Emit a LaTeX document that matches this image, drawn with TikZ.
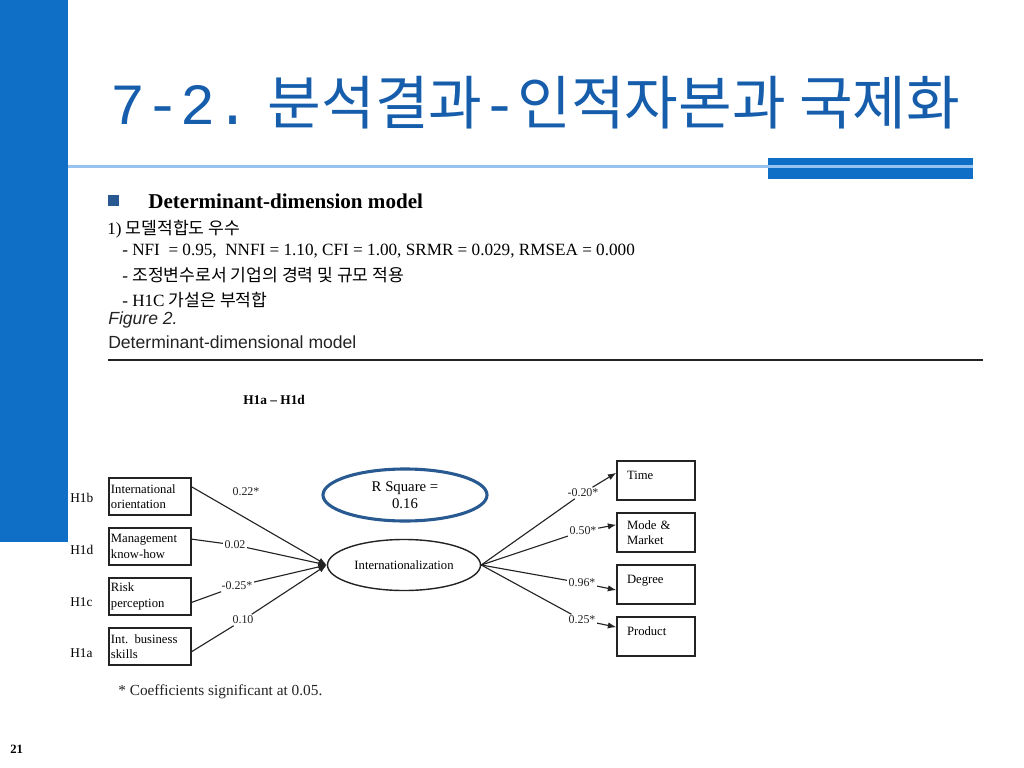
\documentclass[tikz,border=0pt]{standalone}
\usepackage{fontspec}
\setmainfont{Liberation Serif}
\setsansfont{Liberation Sans}
\newfontfamily\kr{Noto Sans CJK KR}
\newfontfamily\krmono{Liberation Mono}
\usetikzlibrary{shapes.geometric,arrows.meta}
\definecolor{barblue}{RGB}{15,111,198}
\definecolor{titleblue}{RGB}{22,94,172}
\definecolor{lineblue}{RGB}{150,195,240}
\definecolor{rsqblue}{RGB}{40,90,145}
\definecolor{scan}{RGB}{35,35,35}

\begin{document}
\begin{tikzpicture}[x=0.025cm,y=-0.025cm,
    txt/.style={anchor=west,inner sep=0pt},
    lbox/.style={draw=scan,line width=1pt,minimum width=2.05cm,minimum height=0.925cm,
        text width=1.95cm,align=left,inner sep=0pt,font=\fontsize{9}{11}\selectfont},
    rbox/.style={draw=scan,line width=1pt,minimum width=1.95cm,minimum height=0.975cm,
        text width=1.45cm,align=left,inner sep=0pt,font=\fontsize{9}{11}\selectfont},
    coef/.style={inner sep=1pt,text=scan,font=\fontsize{8.5}{9}\selectfont},
    hyp/.style={anchor=west,inner sep=0pt,font=\fontsize{9.5}{10}\selectfont},
    path/.style={draw=scan,line width=0.8pt},
    tip/.style={path,-{Latex[length=6pt,width=4.5pt]}}]
\useasboundingbox (0,0) rectangle (1024,768);
% slide frame
\fill[barblue] (0,0) rectangle (68,542); % left bar
\draw[lineblue,line width=2pt] (68,166.5) -- (973,166.5);
\fill[barblue] (768,158) rectangle (973,179);
\draw[lineblue,line width=1.6pt] (768,166.5) -- (973,166.5);
\node[txt,text=titleblue,font=\fontsize{41.5}{42}\selectfont] (title) at (110,103)
    {{\kr{\krmono 7-2.} 분석결과{\krmono -}인적자본과 국제화}};
% text block
\fill[rsqblue] (108,195) rectangle (119,206); % bullet
\node[txt,font=\bfseries\fontsize{15}{16}\selectfont] (head) at (148,201) {Determinant-dimension model};
\node[txt,font=\fontsize{12.2}{13}\selectfont] (fit) at (107,229) {1) {\kr 모델적합도 우수}};
\node[txt,font=\fontsize{12.2}{13}\selectfont] (idx) at (122,251)
    {- NFI~ = 0.95,~ NNFI = 1.10, CFI = 1.00, SRMR = 0.029, RMSEA = 0.000};
\node[txt,font=\fontsize{12.2}{13}\selectfont] (mod) at (122,275) {- {\kr 조정변수로서 기업의 경력 및 규모 적용}};
\node[txt,font=\fontsize{12.2}{13}\selectfont] (h1c) at (122,300) {- H1C {\kr 가설은 부적합}};
% figure caption
\node[txt,text=scan,font=\sffamily\itshape\fontsize{12.5}{13}\selectfont] (fig) at (108,320) {Figure 2.};
\node[txt,text=scan,font=\sffamily\fontsize{12.5}{13}\selectfont] (cap) at (108,342) {Determinant-dimensional model};
\draw[scan,line width=1.3pt] (108,360) -- (983,360);
\node[txt,font=\bfseries\fontsize{9.5}{10}\selectfont] (hrange) at (243,400) {H1a -- H1d};
% determinants
\node[lbox] (io) at (150,496.5) {International\\orientation};
\node[lbox] (mk) at (150,546.5) {Management\\know-how};
\node[lbox] (rp) at (150,596.5) {Risk\\perception};
\node[lbox] (ib) at (150,646.5) {Int. business\\skills};
\node[hyp] (hb) at (70,498) {H1b};
\node[hyp] (hd) at (70,550) {H1d};
\node[hyp] (hc) at (70,602) {H1c};
\node[hyp] (ha) at (70,653) {H1a};
% constructs
\node[draw=scan,line width=1pt,ellipse,minimum width=3.825cm,minimum height=1.275cm,inner sep=0pt,
    font=\fontsize{9}{10}\selectfont] (int) at (404,565) {Internationalization};
\node[draw=rsqblue,line width=2.2pt,ellipse,minimum width=4.1cm,minimum height=1.3cm,inner sep=0pt,
    align=center,font=\fontsize{10.5}{12}\selectfont] (rsq) at (405,495) {R Square =\\0.16};
% dimensions
\node[rbox] (tm) at (656,480.5) {Time\\[-3pt]\mbox{}};
\node[rbox] (mm) at (656,532.5) {Mode \&\\Market};
\node[rbox] (dg) at (656,584.5) {Degree\\[-3pt]\mbox{}};
\node[rbox] (pd) at (656,636.3) {Product\\[-3pt]\mbox{}};
% coefficients
\node[coef] (c1) at (246,492) {0.22*};
\node[coef] (c2) at (235,545) {0.02};
\node[coef] (c3) at (237,586) {-0.25*};
\node[coef] (c4) at (243,620) {0.10};
\node[coef] (c5) at (583,493) {-0.20*};
\node[coef] (c6) at (583,531) {0.50*};
\node[coef] (c7) at (582,583) {0.96*};
\node[coef] (c8) at (582,620) {0.25*};
\draw[tip] (io.13) -- (int.west);
\draw[path] (mk.10) -- (c2);
\draw[tip] (c2) -- (int.west);
\draw[path] (rp.-8) -- (c3);
\draw[tip] (c3) -- (int.west);
\draw[path] (ib.-7) -- (c4);
\draw[tip] (c4) -- (int.west);
\draw[path] (int.east) -- (c5);
\draw[tip] (c5) -- (tm.169);
\draw[path] (int.east) -- (c6);
\draw[tip] (c6) -- (mm.169);
\draw[path] (int.east) -- (c7);
\draw[tip] (c7) -- (dg.188);
\draw[path] (int.east) -- (c8);
\draw[tip] (c8) -- (pd.167);
\node[txt,text=scan,font=\fontsize{10.9}{11}\selectfont] (note) at (118,692) {* Coefficients significant at 0.05.};
\node[txt,font=\bfseries\fontsize{9}{10}\selectfont] (page) at (10,749) {21};
\end{tikzpicture}
\end{document}
